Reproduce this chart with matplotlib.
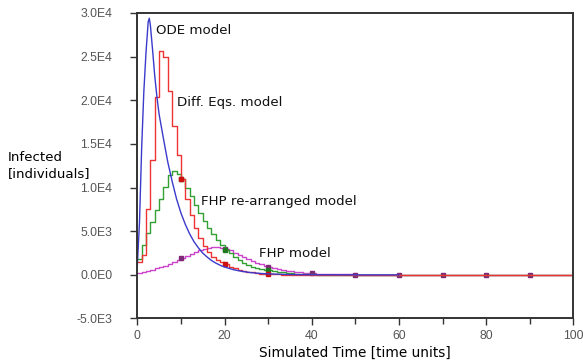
import matplotlib
matplotlib.use('Agg')
from matplotlib import pyplot as plt
from matplotlib.ticker import MultipleLocator

# ODE model (continuous curve)
ode_t = [0, 0.5, 1, 1.5, 2, 2.5, 2.75, 3, 3.5, 4, 4.5, 5, 6, 7, 7.5, 8, 9, 10,
         11, 12, 13, 14, 15, 16, 17, 18, 19, 20, 22, 24, 26, 28, 30, 35, 40, 50, 60]
ode_y = [1000, 6000, 14500, 21000, 25500, 29000, 29400, 28600, 25800, 22800, 20400,
         18400, 15600, 12900, 11800, 10700, 8700, 7100, 5800, 4700, 3800, 3100,
         2500, 2050, 1650, 1350, 1100, 900, 600, 400, 260, 170, 110, 40, 10, 0, 0]

# step models, one value per time unit
step_t = list(range(46)) + [50, 60, 70, 80, 90, 100]

diff_y = [1500, 2300, 7500, 13200, 20400, 25600, 25000, 21100, 17000, 13700,
          11000, 8700, 6900, 5400, 4200, 3300, 2600, 2100, 1700, 1450,
          1250, 950, 750, 580, 450, 350, 270, 200, 150, 110,
          80, 60, 45, 30, 20, 15, 10, 8, 5, 3,
          2, 0, 0, 0, 0, 0, 0, 0, 0, 0, 0, 0]

fhp_re_y = [1800, 3400, 4800, 6100, 7400, 8700, 10100, 11400, 11900, 11600,
            11000, 10000, 9000, 8000, 7100, 6200, 5400, 4700, 4000, 3400,
            2900, 2450, 2050, 1700, 1400, 1150, 950, 800, 680, 580,
            500, 420, 350, 290, 240, 190, 150, 120, 90, 70,
            50, 35, 25, 15, 10, 5, 0, 0, 0, 0, 0, 0]

fhp_y = [250, 350, 480, 600, 730, 880, 1040, 1220, 1420, 1650,
         1900, 2150, 2400, 2620, 2820, 3000, 3120, 3200, 3200, 3120,
         3000, 2800, 2550, 2300, 2050, 1800, 1580, 1380, 1200, 1040,
         900, 770, 660, 560, 480, 410, 350, 300, 250, 210,
         180, 150, 120, 100, 80, 60, 0, 0, 0, 0, 0, 0]

marker_times = [10, 20, 30, 40, 50, 60, 70, 80, 90]

y_ticks = [-5000, 0, 5000, 10000, 15000, 20000, 25000, 30000]
y_tick_labels = ['-5.0E3', '0.0E0', '5.0E3', '1.0E4', '1.5E4', '2.0E4', '2.5E4', '3.0E4']
x_ticks = [0, 20, 40, 60, 80, 100]

labels = ['ODE model', 'Diff. Eqs. model', 'FHP re-arranged model', 'FHP model']
label_pos = [(4.3, 27950), (9.0, 19750), (14.6, 8350), (27.8, 2400)]

plt.rcParams['font.family'] = ['DejaVu Sans']
fig = plt.figure(figsize=(5.83, 3.63), dpi=100)
ax = fig.add_axes([0.2355, 0.1226, 0.7479, 0.8416])

mk = [step_t.index(m) for m in marker_times]
ax.plot(step_t, fhp_y, drawstyle='steps-post', color='#cc44cc', lw=1.0,
        marker='s', markersize=3, markevery=mk, mfc='#802878', mec='#802878')
ax.plot(step_t, fhp_re_y, drawstyle='steps-post', color='#33a033', lw=1.0,
        marker='s', markersize=3, markevery=mk[:3], mfc='#1f7a1f', mec='#1f7a1f')
ax.plot(step_t, diff_y, drawstyle='steps-post', color='#ee3333', lw=1.0,
        marker='s', markersize=3, markevery=mk[:3], mfc='#cc1111', mec='#cc1111')
ax.plot(ode_t, ode_y, color='#3a3acc', lw=1.0)

for txt, (tx, ty) in zip(labels, label_pos):
    ax.text(tx, ty, txt, fontsize=9.6, va='center', ha='left', color='#111111')

ax.set_xlim(0, 100)
ax.set_ylim(-5000, 30000)
ax.set_xticks(x_ticks)
ax.xaxis.set_minor_locator(MultipleLocator(10))
ax.set_yticks(y_ticks)
ax.set_yticklabels(y_tick_labels)

for s in ax.spines.values():
    s.set_color('#333333')
    s.set_linewidth(1.4)
ax.tick_params(which='both', direction='out', color='#333333', labelcolor='#555555',
               labelsize=8.8, width=1.0)
ax.tick_params(which='major', length=5)
ax.tick_params(which='minor', length=4)
ax.tick_params(axis='y', pad=13)
ax.tick_params(axis='x', pad=3)
for lbl in ax.get_xticklabels() + ax.get_yticklabels():
    lbl.set_family('Liberation Sans')

ax.set_xlabel('Simulated Time [time units]', fontsize=9.8, labelpad=3)
fig.text(8 / 583, 1 - 166 / 363, 'Infected\n[individuals]', fontsize=9.6,
         ha='left', va='center', multialignment='left', linespacing=1.3)

fig.savefig('out.png', dpi=100)
